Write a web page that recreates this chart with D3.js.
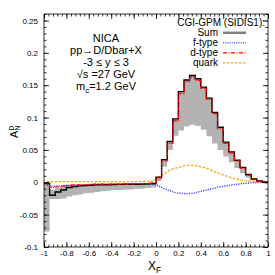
<!DOCTYPE html>
<html><head><meta charset="utf-8">
<script src="https://cdn.jsdelivr.net/npm/d3@7"></script>
<style>body{margin:0;background:#fff}svg{display:block}text{font-family:"Liberation Sans",Arial,sans-serif}</style>
</head><body>
<script>
// ---- data ----
const binStart = [-1,-0.95,-0.9,-0.85,-0.8,-0.75,-0.7,-0.65,-0.6,-0.55,-0.5,-0.45,-0.4,-0.35,-0.3,-0.25,-0.2,-0.15,-0.1,-0.05,
                  0,0.05,0.1,0.15,0.2,0.25,0.3,0.35,0.4,0.45,0.5,0.55,0.6,0.65,0.7,0.75,0.8,0.85,0.9,0.95];
const binWidth = 0.05;
const sumVals = [-0.002,-0.020,-0.015,-0.012,-0.008,-0.0065,-0.0055,-0.005,-0.0045,-0.004,-0.004,-0.0038,-0.0035,-0.0033,-0.003,-0.003,-0.003,-0.0028,-0.0025,-0.002,
                 0.008,0.035,0.063,0.098,0.140,0.158,0.165,0.160,0.147,0.130,0.108,0.085,0.062,0.047,0.034,0.023,0.012,0.005,0.002,0.0005];
const bandLow = [-0.076,-0.026,-0.026,-0.025,-0.022,-0.020,-0.019,-0.017,-0.016,-0.015,-0.014,-0.013,-0.012,-0.012,-0.011,-0.011,-0.010,-0.010,-0.009,-0.008,
                 0.002,0.024,0.050,0.072,0.080,0.086,0.089,0.087,0.081,0.071,0.060,0.050,0.040,0.031,0.022,0.014,0.007,0.003,0.001,0];
const bandHigh = [0,-0.012,-0.009,-0.007,-0.006,-0.005,-0.004,-0.004,-0.004,-0.003,-0.003,-0.003,-0.003,-0.003,-0.003,-0.002,-0.002,-0.002,-0.002,-0.001,
                  0.008,0.035,0.063,0.098,0.140,0.158,0.165,0.160,0.147,0.130,0.108,0.085,0.062,0.047,0.034,0.023,0.012,0.005,0.002,0.0005];
const dVals = [-0.001,-0.008,-0.007,-0.006,-0.005,-0.004,-0.004,-0.004,-0.004,-0.003,-0.003,-0.003,-0.003,-0.003,-0.003,-0.003,-0.002,-0.002,-0.002,-0.001,
               0.007,0.033,0.060,0.095,0.137,0.155,0.162,0.157,0.145,0.128,0.106,0.083,0.060,0.045,0.033,0.022,0.011,0.005,0.002,0.0005];
const fVals = [-0.004,-0.006,-0.006,-0.005,-0.005,-0.004,-0.004,-0.004,-0.003,-0.003,-0.003,-0.003,-0.003,-0.003,-0.003,-0.003,-0.003,-0.003,-0.003,-0.003,
               -0.006,-0.010,-0.013,-0.016,-0.017,-0.0175,-0.017,-0.015,-0.013,-0.011,-0.009,-0.007,-0.0055,-0.004,-0.003,-0.002,-0.0012,-0.0006,-0.0002,0];
const qVals = [0.001,0.001,0.001,0.001,0.001,0.001,0.001,0.001,0.001,0.001,0.001,0.001,0.001,0.001,0.001,0.001,0.001,0.001,0.0015,0.002,
               0.008,0.013,0.019,0.022,0.024,0.026,0.026,0.025,0.023,0.020,0.016,0.013,0.010,0.007,0.005,0.003,0.002,0.001,0.0005,0];
const yMajor = [-0.1,-0.05,0,0.05,0.1,0.15,0.2,0.25];
const yMajorLabels = ["-0.1","-0.05","0","0.05","0.1","0.15","0.2","0.25"];
const xMajor = [-1,-0.8,-0.6,-0.4,-0.2,0,0.2,0.4,0.6,0.8,1];
const xMajorLabels = ["-1","-0.8","-0.6","-0.4","-0.2","0","0.2","0.4","0.6","0.8","1"];
const annotLines = ["NICA","pp\u2192D/Dbar+X","-3 \u2264 y \u2264 3","\u221As =27 GeV"];
const legendTitle = "CGI-GPM (SIDIS1):";
const legendNames = ["Sum","f-type","d-type","quark"];

// ---- layout ----
const W=275,H=275, L=44,R=268,T=14,B=247;
const x=d3.scaleLinear().domain([-1,1]).range([L,R]);
const y=d3.scaleLinear().domain([-0.1,0.26]).range([B,T]);
const svg=d3.select("body").append("svg").attr("width",W).attr("height",H);

const stepPts = v => binStart.map((b,i)=>[b,v[i]]).concat([[1,v[v.length-1]]]);
const centers = binStart.map(b=>b+binWidth/2);

// band
const bandData = binStart.map((b,i)=>({x:b,lo:bandLow[i],hi:bandHigh[i]})).concat([{x:1,lo:bandLow[39],hi:bandHigh[39]}]);
svg.append("path").datum(bandData)
  .attr("d",d3.area().curve(d3.curveStepAfter).x(d=>x(d.x)).y0(d=>y(d.lo)).y1(d=>y(d.hi)))
  .attr("fill","#b3b3b3");

const line = d3.line().x(d=>x(d[0])).y(d=>y(d[1]));
const stepLine = d3.line().curve(d3.curveStepAfter).x(d=>x(d[0])).y(d=>y(d[1]));

// quark (orange dashed)
svg.append("path").datum(centers.map((c,i)=>[c,qVals[i]]))
  .attr("d",line.curve(d3.curveMonotoneX)).attr("fill","none")
  .attr("stroke","#ffa500").attr("stroke-width",1.3).attr("stroke-dasharray","2.5,1.5");
// f-type (blue dotted)
svg.append("path").datum(centers.map((c,i)=>[c,fVals[i]]))
  .attr("d",line.curve(d3.curveMonotoneX)).attr("fill","none")
  .attr("stroke","#2020ff").attr("stroke-opacity",0.85).attr("stroke-width",1.4).attr("stroke-dasharray","1.2,1.2");
// sum (black)
svg.append("path").datum(stepPts(sumVals)).attr("d",stepLine).attr("fill","none")
  .attr("stroke","#000").attr("stroke-width",1.4);
// d-type (red dash-dot)
svg.append("path").datum(stepPts(dVals)).attr("d",stepLine).attr("fill","none")
  .attr("stroke","#ff0000").attr("stroke-width",1.3).attr("stroke-dasharray","4,1.5,1,1.5");

// ---- axes (ticks inward on all sides) ----
const yMinor = d3.range(-10,27).map(k=>k/100).filter(v=>v<=0.26);
const xMinor = d3.range(-25,26).map(k=>k*0.04);
function axisG(ax, tr){ const g=svg.append("g").attr("transform",tr).call(ax); g.select(".domain").remove(); g.selectAll("line").attr("stroke","#000").attr("stroke-width",0.8); return g; }
axisG(d3.axisLeft(y).tickValues(yMinor).tickSize(-2.5).tickFormat(""),`translate(${L},0)`);
axisG(d3.axisRight(y).tickValues(yMinor).tickSize(-2.5).tickFormat(""),`translate(${R},0)`);
axisG(d3.axisBottom(x).tickValues(xMinor).tickSize(-2.5).tickFormat(""),`translate(0,${B})`);
axisG(d3.axisTop(x).tickValues(xMinor).tickSize(-2.5).tickFormat(""),`translate(0,${T})`);
const gl=axisG(d3.axisLeft(y).tickValues(yMajor).tickSize(-5).tickPadding(6).tickFormat((d,i)=>yMajorLabels[i]),`translate(${L},0)`);
axisG(d3.axisRight(y).tickValues(yMajor).tickSize(-5).tickFormat(""),`translate(${R},0)`);
const gb=axisG(d3.axisBottom(x).tickValues(xMajor).tickSize(-5).tickPadding(3).tickFormat((d,i)=>xMajorLabels[i]),`translate(0,${B})`);
axisG(d3.axisTop(x).tickValues(xMajor).tickSize(-5).tickFormat(""),`translate(0,${T})`);
gl.selectAll("text").attr("font-size",8).attr("fill","#000").attr("font-family","Liberation Sans, Arial, sans-serif");
gb.selectAll("text").attr("font-size",8).attr("fill","#000").attr("font-family","Liberation Sans, Arial, sans-serif");
svg.append("rect").attr("x",L).attr("y",T).attr("width",R-L).attr("height",B-T)
  .attr("fill","none").attr("stroke","#000").attr("stroke-width",0.8);

// ---- axis titles ----
const xt=svg.append("text").attr("x",148).attr("y",270).attr("font-size",12);
xt.append("tspan").text("X");
xt.append("tspan").attr("font-size",8.5).attr("dy",2.5).text("F");
const yt=svg.append("g").attr("transform","translate(18,138) rotate(-90)");
yt.append("text").attr("x",0).attr("y",0).attr("font-size",11).text("A");
yt.append("text").attr("x",7.5).attr("y",-4).attr("font-size",6.5).text("D");
yt.append("text").attr("x",7.5).attr("y",2).attr("font-size",6.5).text("N");

// ---- annotation ----
const ann=svg.append("g").attr("font-size",11).attr("text-anchor","middle");
const annY=[42,54,66,78];
annotLines.forEach((t,i)=>ann.append("text").attr("x",106).attr("y",annY[i]).text(t));
const mc=ann.append("text").attr("x",106).attr("y",90);
mc.append("tspan").text("m");
mc.append("tspan").attr("font-size",8).attr("dy",2.5).text("c");
mc.append("tspan").attr("dy",-2.5).text("=1.2 GeV");

// ---- legend ----
const lg=svg.append("g").attr("font-size",10);
lg.append("text").attr("x",265).attr("y",25.5).attr("text-anchor","end").text(legendTitle);
const lgStyles=[{c:"#808080",w:2.5,d:null},{c:"#7070ff",w:1.6,d:"1.2,1"},{c:"#ff0000",w:1.2,d:"4,1.5,1,1.5"},{c:"#ffa500",w:1.2,d:"2.5,1.5"}];
legendNames.forEach((n,i)=>{
  const yy=32.8+i*10;
  lg.append("text").attr("x",218).attr("y",yy+3.5).attr("text-anchor","end").text(n);
  lg.append("line").attr("x1",223).attr("x2",246).attr("y1",yy).attr("y2",yy)
    .attr("stroke",lgStyles[i].c).attr("stroke-width",lgStyles[i].w).attr("stroke-dasharray",lgStyles[i].d);
});
</script>
</body></html>
